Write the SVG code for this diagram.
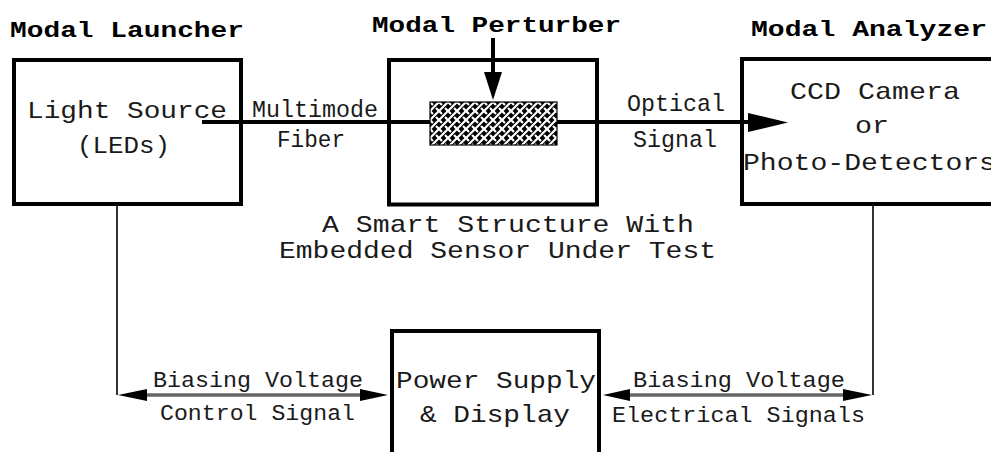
<svg xmlns="http://www.w3.org/2000/svg" width="991" height="452" viewBox="0 0 991 452">
<style>
.box{fill:none;stroke:#000;stroke-width:4}
.t{font-family:"Liberation Mono","Courier New",monospace;fill:#1a1a1a}
.title{font-weight:bold;font-size:22px;fill:#000}
.body{font-size:24px}
.small{font-size:22px}
.fiber{stroke:#000;stroke-width:4;fill:none}
.wire{stroke:#333;stroke-width:2;fill:none}
.bus{stroke:#666;stroke-width:3.5;fill:none}
.head{fill:#000}
</style>
<defs>
<pattern id="weave" patternUnits="userSpaceOnUse" width="9" height="9" x="430" y="102">
<rect width="9" height="9" fill="#000"/>
<path d="M-1,10 L10,-1 M-1,1 L1,-1 M8,10 L10,8" stroke="#fff" stroke-width="2.2"/>
<path d="M0,0 L3,3 M6,6 L9,9" stroke="#fff" stroke-width="2.2"/>
</pattern>
</defs>
<rect width="991" height="452" fill="#fff"/>

<g id="connectors">
<line class="fiber" x1="202" y1="122" x2="752" y2="122"/>
<polygon class="head" points="748,113 788,122.5 748,132"/>
<line class="fiber" x1="493" y1="38" x2="493" y2="75"/>
<polygon class="head" points="484,72 502,72 493,100"/>
<polyline class="wire" points="117,206 117,395"/>
<line class="bus" x1="140" y1="395" x2="365" y2="395"/>
<polygon class="head" points="118,395 147,389 147,401"/>
<polygon class="head" points="388,395 360,389 360,401"/>
<polyline class="wire" points="873,206 873,395"/>
<line class="bus" x1="625" y1="395" x2="848" y2="395"/>
<polygon class="head" points="603,395 630,389 630,401"/>
<polygon class="head" points="872,395 843,389 843,401"/>
<text class="t body" x="252" y="117" textLength="126" lengthAdjust="spacingAndGlyphs">Multimode</text>
<text class="t body" x="277" y="147" textLength="68" lengthAdjust="spacingAndGlyphs">Fiber</text>
<text class="t body" x="627" y="111" textLength="98" lengthAdjust="spacingAndGlyphs">Optical</text>
<text class="t body" x="633" y="147" textLength="84" lengthAdjust="spacingAndGlyphs">Signal</text>
<text class="t small" x="153" y="387" textLength="210" lengthAdjust="spacingAndGlyphs">Biasing Voltage</text>
<text class="t small" x="160" y="420" textLength="195" lengthAdjust="spacingAndGlyphs">Control Signal</text>
<text class="t small" x="633" y="387" textLength="212" lengthAdjust="spacingAndGlyphs">Biasing Voltage</text>
<text class="t small" x="612" y="422" textLength="253" lengthAdjust="spacingAndGlyphs">Electrical Signals</text>
</g>

<g id="launcher">
<text class="t title" x="10" y="37" textLength="234" lengthAdjust="spacingAndGlyphs">Modal Launcher</text>
<rect class="box" x="14" y="60" width="227" height="144"/>
<text class="t body" x="27" y="118" textLength="200" lengthAdjust="spacingAndGlyphs">Light Source</text>
<text class="t body" x="77" y="153" textLength="93" lengthAdjust="spacingAndGlyphs">(LEDs)</text>
</g>

<g id="perturber">
<text class="t title" x="372" y="32" textLength="249" lengthAdjust="spacingAndGlyphs">Modal Perturber</text>
<rect class="box" x="389" y="60" width="208" height="144.5"/>
<rect x="430" y="102" width="127" height="43" fill="url(#weave)" stroke="#000" stroke-width="1.2"/>
<text class="t body" x="322" y="232" textLength="372" lengthAdjust="spacingAndGlyphs">A Smart Structure With</text>
<text class="t body" x="279" y="258" textLength="437" lengthAdjust="spacingAndGlyphs">Embedded Sensor Under Test</text>
</g>

<g id="analyzer">
<text class="t title" x="751" y="36" textLength="236" lengthAdjust="spacingAndGlyphs">Modal Analyzer</text>
<rect class="box" x="742" y="59" width="260" height="145"/>
<text class="t body" x="790" y="99" textLength="170" lengthAdjust="spacingAndGlyphs">CCD Camera</text>
<text class="t body" x="855" y="133" textLength="34" lengthAdjust="spacingAndGlyphs">or</text>
<text class="t body" x="743" y="170" textLength="253" lengthAdjust="spacingAndGlyphs">Photo-Detectors</text>
</g>

<g id="power">
<rect class="box" x="392" y="331" width="207" height="140"/>
<text class="t body" x="396" y="388" textLength="200" lengthAdjust="spacingAndGlyphs">Power Supply</text>
<text class="t body" x="420" y="422" textLength="150" lengthAdjust="spacingAndGlyphs">&amp; Display</text>
</g>
</svg>
